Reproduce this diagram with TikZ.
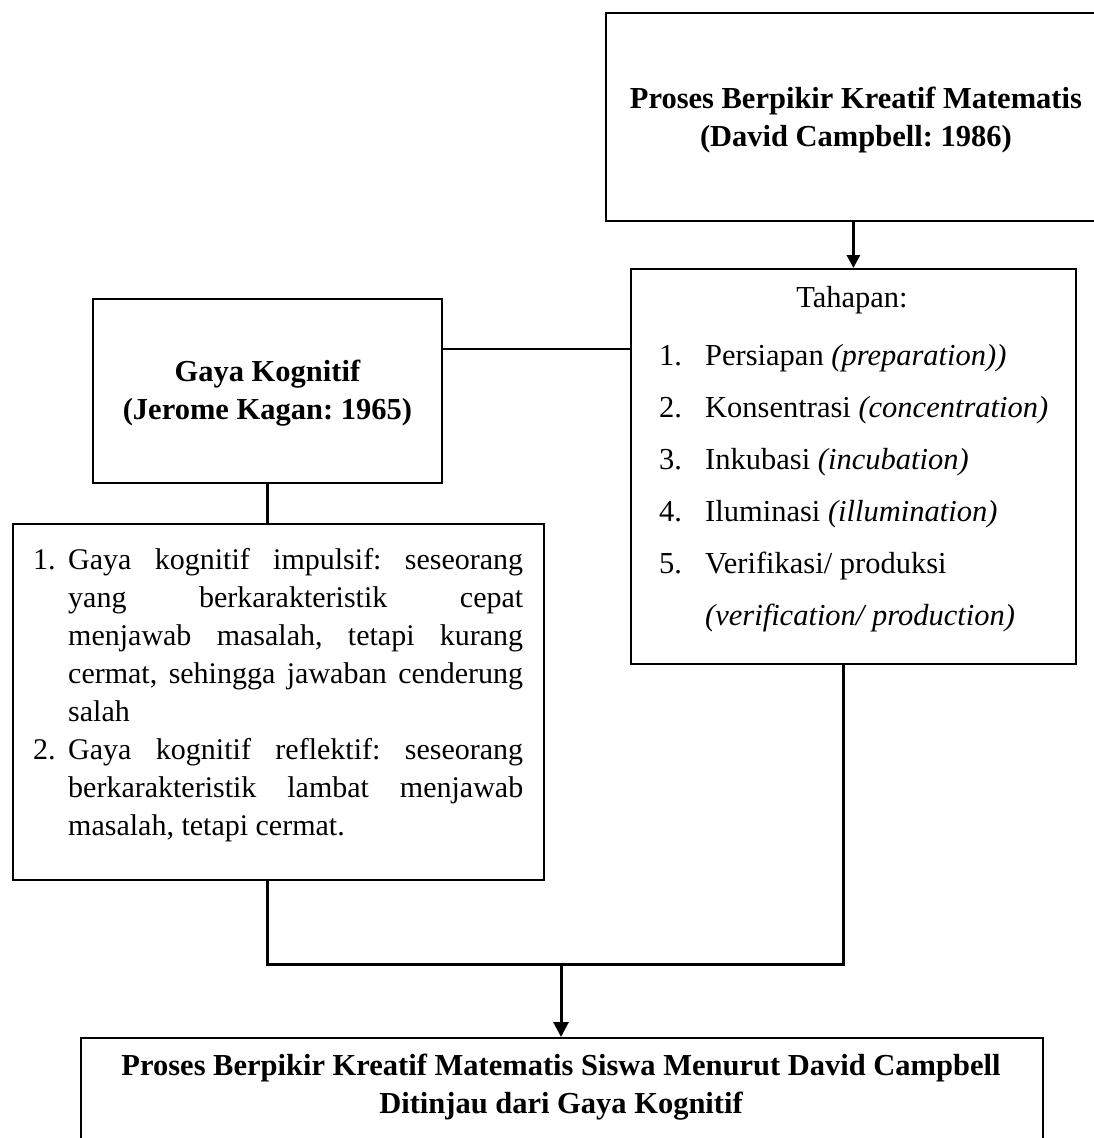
\documentclass[tikz,border=0pt]{standalone}
\usepackage{fontspec}
\setmainfont{Liberation Serif}
\usetikzlibrary{arrows.meta}
\frenchspacing
\begin{document}
\frenchspacing
\begin{tikzpicture}[x=1pt,y=-1pt,
  box/.style={draw,line width=1.8pt,anchor=north west,inner sep=0pt},
  conn/.style={line width=3pt},
  arr/.style={line width=3pt,-{Triangle[width=15pt,length=15pt]}},
  arrS/.style={line width=3pt,-{Triangle[width=13pt,length=13pt]}},
  thinline/.style={line width=1.2pt},
  bfbig/.style={font=\fontsize{30.5}{38}\selectfont\bfseries,align=center},
  txt/.style={inner sep=0pt}]
\clip (0,0) rectangle (1094,1138);
% boxes
\node[box,minimum width=500pt,minimum height=208pt,bfbig] (top) at (605,12)
  {\rule{0pt}{27pt}Proses Berpikir Kreatif Matematis\\(David Campbell: 1986)};
\node[box,minimum width=349pt,minimum height=184pt,bfbig] (gaya) at (92,298)
  {\rule{0pt}{25pt}Gaya Kognitif\\(Jerome Kagan: 1965)};
\node[box,minimum width=445pt,minimum height=395pt] (tah) at (630,268) {};
\node[box,minimum width=531pt,minimum height=356pt] (list) at (12,523) {};
\node[box,minimum width=962pt,minimum height=200pt] (bot) at (80,1037) {};
% texts
\node[txt,anchor=base,font=\fontsize{30.5}{38}\selectfont] (tahT) at (852,307) {Tahapan:};
\node[txt,anchor=base west] (tahL) at (659,365) {\parbox[t]{420pt}{\fontsize{30.5}{52}\selectfont
\makebox[46pt][l]{1.}Persiapan \textit{(preparation))}\\
\makebox[46pt][l]{2.}Konsentrasi \textit{(concentration)}\\
\makebox[46pt][l]{3.}Inkubasi \textit{(incubation)}\\
\makebox[46pt][l]{4.}Iluminasi \textit{(illumination)}\\
\makebox[46pt][l]{5.}Verifikasi/ produksi\\
\hspace*{46pt}\textit{(verification/ production)}}};
\node[txt,anchor=base west] (listT) at (33,569) {\parbox[t]{490pt}{\fontsize{30}{38}\selectfont\frenchspacing
\makebox[35pt][l]{1.}\makebox[455pt][s]{Gaya kognitif impulsif: seseorang}\\
\hspace*{35pt}\makebox[455pt][s]{yang berkarakteristik cepat}\\
\hspace*{35pt}\makebox[455pt][s]{menjawab masalah, tetapi kurang}\\
\hspace*{35pt}\makebox[455pt][s]{cermat, sehingga jawaban cenderung}\\
\hspace*{35pt}salah\\
\makebox[35pt][l]{2.}\makebox[455pt][s]{Gaya kognitif reflektif: seseorang}\\
\hspace*{35pt}\makebox[455pt][s]{berkarakteristik lambat menjawab}\\
\hspace*{35pt}masalah, tetapi cermat.}};
\node[txt,anchor=base] (botT) at (561,1075) {\parbox[t]{960pt}{\centering\fontsize{30.5}{38}\selectfont\bfseries
Proses Berpikir Kreatif Matematis Siswa Menurut David Campbell\\
Ditinjau dari Gaya Kognitif}};
% connectors
\draw[arrS] (tah.north |- top.south) -- (tah.north);
\draw[thinline] ([yshift=-51pt]gaya.north east) -- ([yshift=-51pt]gaya.north east -| tah.west);
\draw[conn] (gaya.south) -- (gaya.south |- list.north);
\coordinate (m) at (561,964);
\draw[conn] (list.south -| gaya.south) |- (m) -| ([xshift=-9.5pt]tah.south);
\draw[arr] (m) -- (m |- bot.north);
\end{tikzpicture}
\end{document}
